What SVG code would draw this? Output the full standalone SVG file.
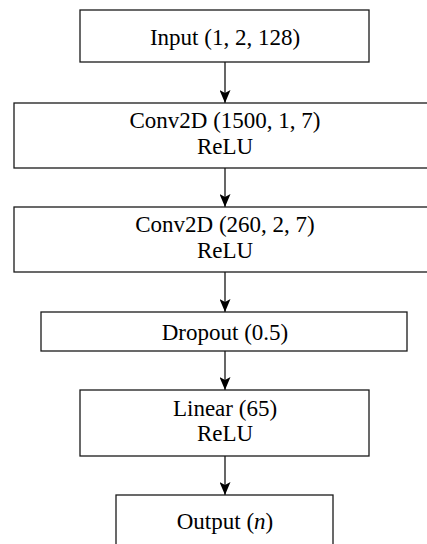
<svg xmlns="http://www.w3.org/2000/svg" width="427" height="544" viewBox="0 0 427 544">
<style>
.box{fill:#fff;stroke:#1a1a1a;stroke-width:1.3}
.t{font-family:"Liberation Serif","Times New Roman",serif;font-size:23px;fill:#000;text-anchor:middle}
.c{stroke:#000;stroke-width:1.2;fill:none}
</style>
<defs>
<marker id="ah" viewBox="0 0 13 11" refX="13" refY="5.5" markerWidth="13" markerHeight="11" markerUnits="userSpaceOnUse" orient="auto">
<path d="M0,0 L13,5.5 L0,11 L3,5.5 Z" fill="#000"/>
</marker>
</defs>
<rect width="427" height="544" fill="#fff"/>
<g id="connectors">
<line class="c" x1="225" y1="62" x2="225" y2="103" marker-end="url(#ah)"/>
<line class="c" x1="225" y1="168" x2="225" y2="207" marker-end="url(#ah)"/>
<line class="c" x1="225" y1="272" x2="225" y2="312" marker-end="url(#ah)"/>
<line class="c" x1="225" y1="351" x2="225" y2="390" marker-end="url(#ah)"/>
<line class="c" x1="225" y1="456" x2="225" y2="495" marker-end="url(#ah)"/>
</g>
<g id="input">
<rect class="box" x="80" y="10" width="289" height="52"/>
<text class="t" x="225" y="45">Input (1, 2, 128)</text>
</g>
<g id="conv1">
<rect class="box" x="14" y="103" width="422" height="65"/>
<text class="t" x="225" y="128">Conv2D (1500, 1, 7)</text>
<text class="t" x="225" y="153.5">ReLU</text>
</g>
<g id="conv2">
<rect class="box" x="14" y="207" width="422" height="65"/>
<text class="t" x="225" y="232">Conv2D (260, 2, 7)</text>
<text class="t" x="225" y="257.5">ReLU</text>
</g>
<g id="dropout">
<rect class="box" x="41" y="312" width="366" height="39"/>
<text class="t" x="225" y="339.5">Dropout (0.5)</text>
</g>
<g id="linear">
<rect class="box" x="80" y="390" width="289" height="66"/>
<text class="t" x="225" y="415.5">Linear (65)</text>
<text class="t" x="225" y="441">ReLU</text>
</g>
<g id="output">
<rect class="box" x="116" y="495" width="217" height="60"/>
<text class="t" x="225" y="529">Output (<tspan font-style="italic">n</tspan>)</text>
</g>
</svg>
